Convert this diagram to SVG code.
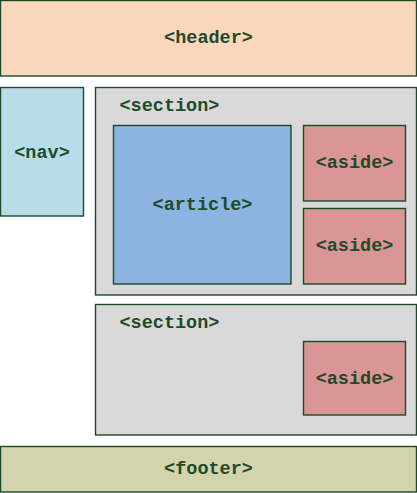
<svg xmlns="http://www.w3.org/2000/svg" width="417" height="493" viewBox="0 0 417 493">
<style>
rect{stroke:#1b4a2a;stroke-width:1.4}
text{font-family:"Liberation Mono","Courier New",monospace;font-weight:bold;font-size:18.5px;fill:#1f4a2c;text-anchor:middle;dominant-baseline:central}
.l{text-anchor:start}
</style>
<g id="header"><rect x="0.5" y="0.5" width="416" height="75.5" fill="#fbd7bb"/><text x="208.5" y="38.5">&lt;header&gt;</text></g>
<g id="nav"><rect x="0.5" y="87.5" width="83" height="128.5" fill="#b7dde8"/><text x="42" y="153">&lt;nav&gt;</text></g>
<g id="section1"><rect x="95.5" y="87.5" width="321" height="207.5" fill="#d9d9d9"/><text class="l" x="119.5" y="106">&lt;section&gt;</text></g>
<g id="article"><rect x="113.5" y="125.5" width="177.5" height="158.5" fill="#8db3e2"/><text x="202.5" y="205">&lt;article&gt;</text></g>
<g id="aside1"><rect x="303.5" y="125.5" width="102" height="75.5" fill="#d99694"/><text x="354.5" y="163.5">&lt;aside&gt;</text></g>
<g id="aside2"><rect x="303.5" y="208.5" width="102" height="75.5" fill="#d99694"/><text x="354.5" y="246.5">&lt;aside&gt;</text></g>
<g id="section2"><rect x="95.5" y="304.5" width="321" height="130.5" fill="#d9d9d9"/><text class="l" x="119.5" y="323">&lt;section&gt;</text></g>
<g id="aside3"><rect x="303.5" y="341.5" width="102" height="73.5" fill="#d99694"/><text x="354.5" y="379">&lt;aside&gt;</text></g>
<g id="footer"><rect x="0.5" y="446.5" width="416" height="45.5" fill="#d3d3ac"/><text x="208.5" y="469">&lt;footer&gt;</text></g>
<g id="connectors"/>
</svg>
